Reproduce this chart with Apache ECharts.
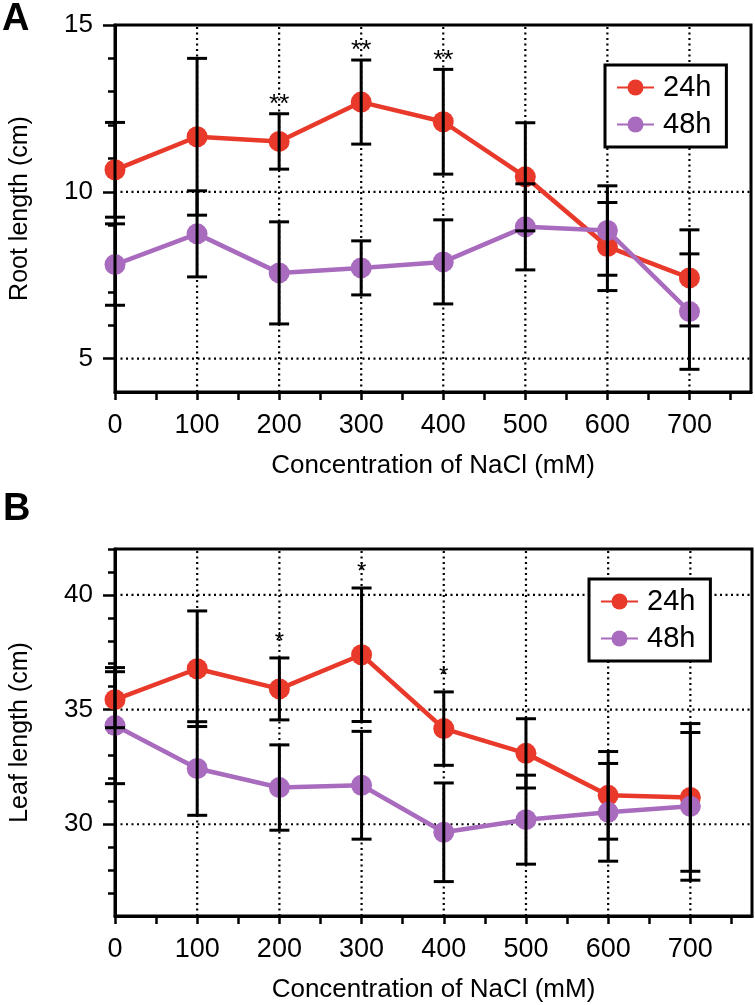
<!DOCTYPE html>
<html><head><meta charset="utf-8">
<script src="https://cdn.jsdelivr.net/npm/echarts@6/dist/echarts.min.js"></script>
<style>html,body{margin:0;padding:0;background:#fff}#c{width:755px;height:1005px}</style>
</head><body><div id="c"></div>
<script>
// ---- data ----
const conc = [0, 100, 200, 300, 400, 500, 600, 700];
const rootMean24 = [10.66, 11.65, 11.51, 12.69, 12.10, 10.45, 8.36, 7.42];
const rootErr24  = [1.42, 2.35, 0.83, 1.26, 1.57, 1.62, 1.32, 1.44];
const rootMean48 = [7.82, 8.74, 7.57, 7.72, 7.90, 8.95, 8.84, 6.41];
const rootErr48  = [1.22, 1.29, 1.53, 0.81, 1.26, 1.29, 1.34, 1.73];
const rootSig    = ['', '', '**', '**', '**', '', '', ''];
const leafMean24 = [35.43, 36.78, 35.90, 37.39, 34.17, 33.09, 31.26, 31.17];
const leafErr24  = [1.22, 2.52, 1.35, 2.91, 1.60, 1.51, 1.91, 3.22];
const leafMean48 = [34.30, 32.43, 31.60, 31.70, 29.65, 30.20, 30.52, 30.78];
const leafErr48  = [2.53, 2.04, 1.86, 2.35, 2.15, 1.94, 2.13, 3.22];
const leafSig    = ['', '', '*', '*', '*', '', '', ''];
const seriesNames = ['24h', '48h'];
const xMajorTicks = [0, 100, 200, 300, 400, 500, 600, 700];
const xMinorTicks = [50, 150, 250, 350, 450, 550, 650, 750];
const xGridLines  = [100, 200, 300, 400, 500, 600, 700];
const rootMajorTicks = [5, 10, 15];
const rootMinorTicks = [5, 6, 7, 8, 9, 10, 11, 12, 13, 14, 15];
const rootGridLines  = [5, 10];
const leafMajorTicks = [30, 35, 40];
const leafMinorTicks = [27, 28, 29, 30, 31, 32, 33, 34, 35, 36, 37, 38, 39, 40, 41, 42];
const leafGridLines  = [30, 35, 40];
const xTitle = 'Concentration of NaCl (mM)';
const rootTitle = 'Root length (cm)';
const leafTitle = 'Leaf length (cm)';

// ---- styles ----
const FONT = '"Liberation Sans", Arial, Helvetica, sans-serif';
const RED = '#E8392B';
const PURPLE = '#A86BBE';
const grids = [
  { left: 113, right: 4, top: 25, bottom: 613, yMin: 4, yMax: 15 },
  { left: 113, right: 3, top: 549, bottom: 89, yMin: 26, yMax: 42 }
];
const X_MAX = 775;

const chart = echarts.init(document.getElementById('c'), null, { renderer: 'canvas' });

const xAxes = [], yAxes = [], series = [];
const panels = [
  { m24: rootMean24, e24: rootErr24, m48: rootMean48, e48: rootErr48, sig: rootSig,
    major: rootMajorTicks, minor: rootMinorTicks, gl: rootGridLines, title: rootTitle, sigFont: 26, sigOff: -4 },
  { m24: leafMean24, e24: leafErr24, m48: leafMean48, e48: leafErr48, sig: leafSig,
    major: leafMajorTicks, minor: leafMinorTicks, gl: leafGridLines, title: leafTitle, sigFont: 24, sigOff: 4 }
];

panels.forEach((p, g) => {
  const G = grids[g];
  xAxes.push({
    gridIndex: g, type: 'value', min: 0, max: X_MAX, interval: 100,
    axisLine: { show: true, lineStyle: { color: '#000', width: 3 } },
    axisTick: { show: true, customValues: xMajorTicks, length: 8, lineStyle: { color: '#000', width: 2.5 } },
    axisLabel: { show: true, customValues: xMajorTicks, color: '#000', fontSize: 27, fontFamily: FONT, margin: 20 },
    splitLine: { show: false },
    name: xTitle, nameLocation: 'middle', nameGap: 61,
    nameTextStyle: { color: '#000', fontSize: 26, fontFamily: FONT }
  });
  xAxes.push({
    gridIndex: g, type: 'value', min: 0, max: X_MAX, interval: 50, position: 'bottom',
    axisLine: { show: false },
    axisTick: { show: true, customValues: xMinorTicks, length: 8, lineStyle: { color: '#000', width: 2.5 } },
    axisLabel: { show: false }, splitLine: { show: false }
  });
  yAxes.push({
    gridIndex: g, type: 'value', min: G.yMin, max: G.yMax, interval: 1,
    axisLine: { show: true, lineStyle: { color: '#000', width: 3 } },
    axisTick: { show: true, customValues: p.major, length: 12, lineStyle: { color: '#000', width: 2.5 } },
    axisLabel: { show: true, customValues: p.major, color: '#000', fontSize: 26, fontFamily: FONT, margin: 22 },
    splitLine: { show: false },
    name: p.title, nameLocation: 'middle', nameGap: 82,
    nameTextStyle: { color: '#000', fontSize: 25, fontFamily: FONT }
  });
  yAxes.push({
    gridIndex: g, type: 'value', min: G.yMin, max: G.yMax, interval: 1, position: 'left',
    axisLine: { show: false },
    axisTick: { show: true, customValues: p.minor, length: 7, lineStyle: { color: '#000', width: 2.5 } },
    axisLabel: { show: false }, splitLine: { show: false }
  });
  const xi = g * 2, yi = g * 2;

  const glData = xGridLines.map(v => ['x', v]).concat(p.gl.map(v => ['y', v]));
  series.push({
    type: 'custom', xAxisIndex: xi, yAxisIndex: yi, z: 1, silent: true,
    data: glData.map((d, i) => [i]),
    renderItem: (params, api) => {
      const d = glData[params.dataIndex];
      let p1, p2;
      if (d[0] === 'x') { p1 = api.coord([d[1], G.yMin]); p2 = api.coord([d[1], G.yMax]); }
      else { p1 = api.coord([0, d[1]]); p2 = api.coord([X_MAX, d[1]]); }
      return { type: 'line', shape: { x1: p1[0], y1: p1[1], x2: p2[0], y2: p2[1] },
        style: { stroke: '#000', lineWidth: 2.2, lineDash: [2, 3.5] } };
    }
  });

  const lines = [[p.m24, RED, 2], [p.m48, PURPLE, 3]];
  lines.forEach((L, k) => {
    series.push({
      name: seriesNames[k], type: 'line', xAxisIndex: xi, yAxisIndex: yi, z: L[2],
      data: conc.map((c, i) => [c, L[0][i]]),
      symbol: 'circle', symbolSize: 21, showSymbol: true,
      lineStyle: { color: L[1], width: 4.5 }, itemStyle: { color: L[1], borderWidth: 0 },
      emphasis: { disabled: true }, animation: false
    });
  });

  const eb = [];
  conc.forEach((c, i) => { eb.push([c, p.m24[i], p.e24[i]]); eb.push([c, p.m48[i], p.e48[i]]); });
  series.push({
    type: 'custom', xAxisIndex: xi, yAxisIndex: yi, z: 5, silent: true,
    data: eb, encode: { x: 0, y: 1 },
    renderItem: (params, api) => {
      const x = api.value(0), m = api.value(1), e = api.value(2);
      const t = api.coord([x, m + e]), b = api.coord([x, m - e]);
      const st = { stroke: '#000', lineWidth: 3 };
      const w = 10;
      return { type: 'group', children: [
        { type: 'line', shape: { x1: t[0], y1: t[1], x2: b[0], y2: b[1] }, style: st },
        { type: 'line', shape: { x1: t[0] - w, y1: t[1], x2: t[0] + w, y2: t[1] }, style: st },
        { type: 'line', shape: { x1: b[0] - w, y1: b[1], x2: b[0] + w, y2: b[1] }, style: st }
      ]};
    }
  });

  series.push({
    type: 'custom', xAxisIndex: xi, yAxisIndex: yi, z: 6, silent: true,
    data: conc.map((c, i) => [c, Math.max(p.m24[i] + p.e24[i], p.m48[i] + p.e48[i])]),
    encode: { x: 0, y: 1 },
    renderItem: (params, api) => {
      const s = p.sig[params.dataIndex];
      if (!s) return null;
      const pt = api.coord([api.value(0), api.value(1)]);
      return { type: 'text', x: pt[0], y: pt[1] - p.sigOff,
        style: { text: s, fill: '#000', font: p.sigFont + 'px ' + FONT, align: 'center', verticalAlign: 'bottom' } };
    }
  });
});

const legendCommon = {
  data: seriesNames, orient: 'vertical', itemWidth: 37, itemHeight: 20, itemGap: 8,
  backgroundColor: '#fff', borderColor: '#000', borderWidth: 3, borderRadius: 0,
  padding: [8, 15, 8, 11], selectedMode: false,
  textStyle: { color: '#000', fontSize: 29, fontFamily: FONT, lineHeight: 29, padding: [0, 0, 0, 4] }
};

const option = {
  backgroundColor: '#fff',
  animation: false,
  grid: grids.map(G => ({ left: G.left, right: G.right, top: G.top, bottom: G.bottom,
    show: true, borderColor: '#000', borderWidth: 3, backgroundColor: 'transparent', containLabel: false })),
  xAxis: xAxes,
  yAxis: yAxes,
  legend: [
    Object.assign({}, legendCommon, { left: 605, top: 65 }),
    Object.assign({}, legendCommon, { left: 589, top: 579 })
  ],
  graphic: [
    { type: 'text', left: 2, top: 1, style: { text: 'A', font: 'bold 38px ' + FONT, fill: '#000' } },
    { type: 'text', left: 3, top: 491, style: { text: 'B', font: 'bold 38px ' + FONT, fill: '#000' } }
  ],
  series: series
};
chart.setOption(option);
</script></body></html>
